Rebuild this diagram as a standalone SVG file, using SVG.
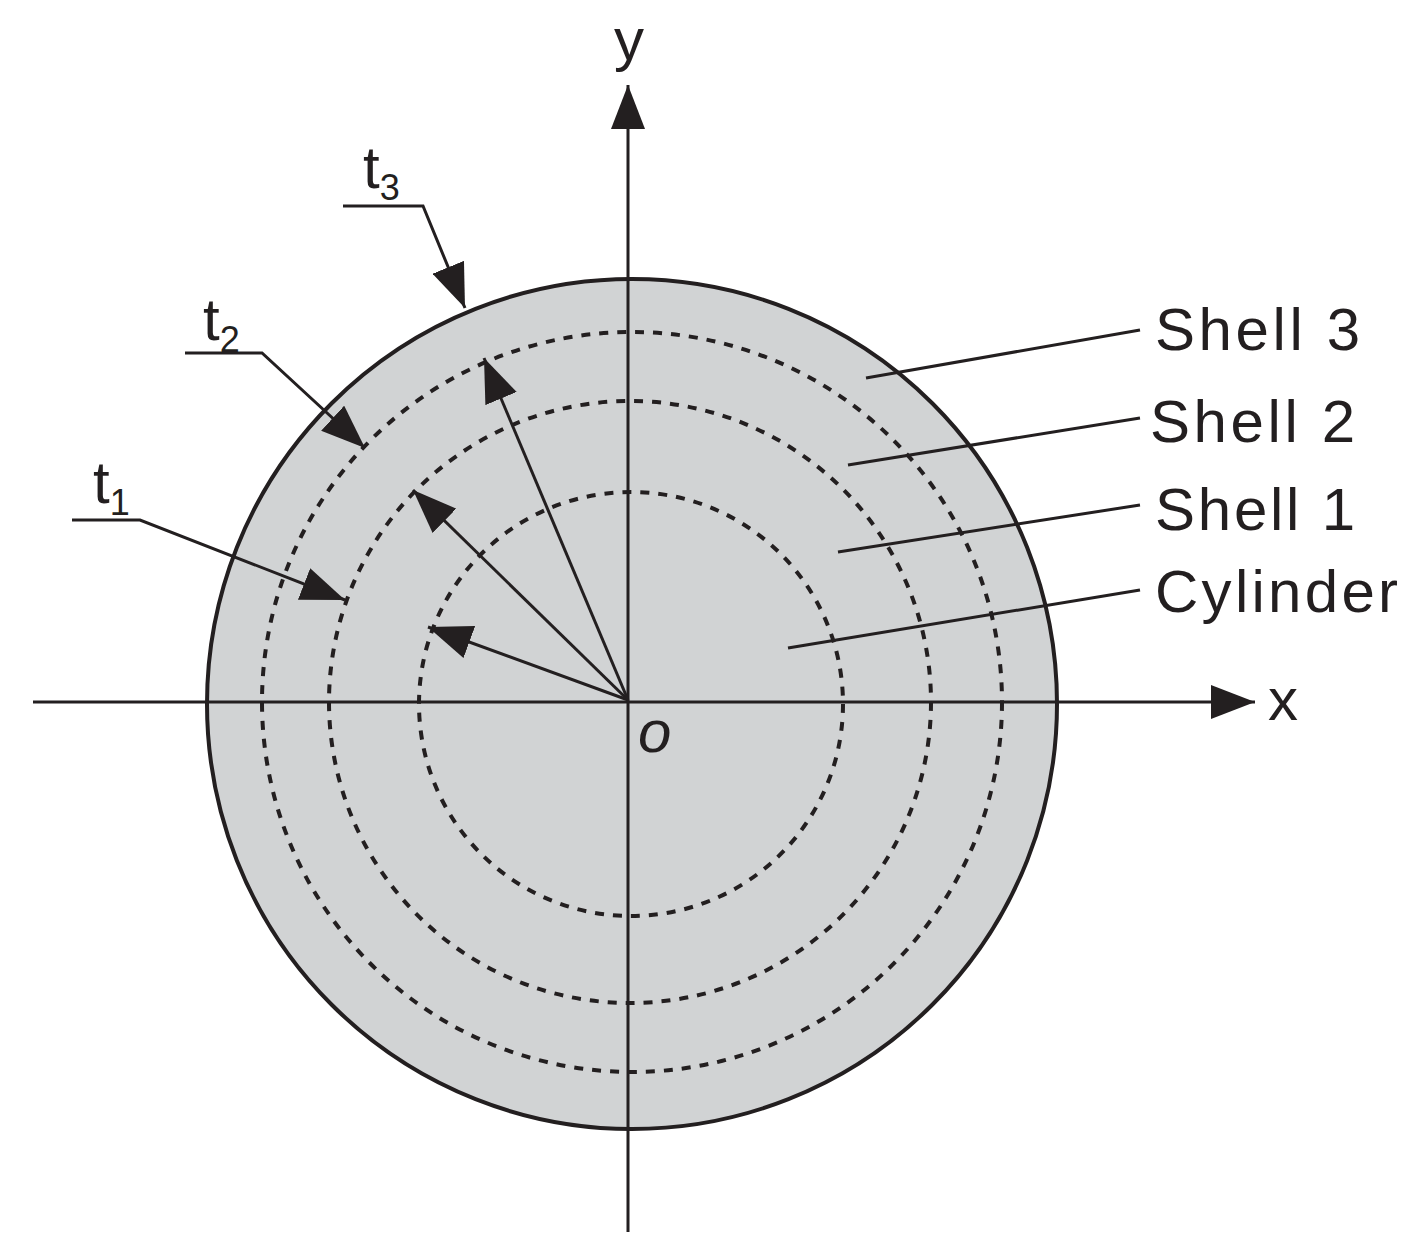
<svg xmlns="http://www.w3.org/2000/svg" width="1417" height="1244" viewBox="0 0 1417 1244">
<style>
.l{stroke:#231f20;stroke-width:3;fill:none}
.d{stroke:#231f20;stroke-width:4;fill:none;stroke-dasharray:9 9}
text{font-family:"Liberation Sans",Arial,sans-serif;fill:#231f20}
.lab{font-size:60px}
</style>
<defs>
<marker id="b" viewBox="0 0 10 10" refX="10" refY="5" markerWidth="44" markerHeight="34" markerUnits="userSpaceOnUse" orient="auto" preserveAspectRatio="none"><path d="M0,0L10,5L0,10z" fill="#231f20"/></marker>
</defs>
<g id="body">
<circle cx="632" cy="704" r="425" fill="#d1d3d4" stroke="#231f20" stroke-width="4"/>
<circle class="d" cx="632" cy="702" r="370"/>
<circle class="d" cx="630" cy="702" r="301"/>
<circle class="d" cx="631" cy="704" r="212"/>
</g>
<g id="connectors">
<line class="l" x1="33" y1="702" x2="1255" y2="702" marker-end="url(#b)"/>
<line class="l" x1="628" y1="1232" x2="628" y2="85" marker-end="url(#b)"/>
<line class="l" x1="628" y1="700" x2="428" y2="627" marker-end="url(#b)"/>
<line class="l" x1="628" y1="700" x2="413" y2="490" marker-end="url(#b)"/>
<line class="l" x1="628" y1="700" x2="484" y2="358" marker-end="url(#b)"/>
<polyline class="l" points="343,206 423,206 465,308" marker-end="url(#b)"/>
<polyline class="l" points="185,353 262,353 365,448" marker-end="url(#b)"/>
<polyline class="l" points="72,520 140,520 345,600" marker-end="url(#b)"/>
<line class="l" x1="866" y1="378" x2="1140" y2="330"/>
<line class="l" x1="848" y1="465" x2="1140" y2="418"/>
<line class="l" x1="838" y1="552" x2="1140" y2="505"/>
<line class="l" x1="788" y1="648" x2="1140" y2="590"/>
</g>
<g id="labels">
<text class="lab" x="1155" y="350" textLength="205">Shell 3</text>
<text class="lab" x="1150" y="442" textLength="205">Shell 2</text>
<text class="lab" x="1155" y="530" textLength="200">Shell 1</text>
<text class="lab" x="1155" y="612" textLength="243">Cylinder</text>
<text class="lab" x="1268" y="720">x</text>
<text class="lab" x="614" y="60">y</text>
<text class="lab" x="638" y="752" font-style="italic">o</text>
<text class="lab" x="363" y="188">t<tspan font-size="36" dy="12">3</tspan></text>
<text class="lab" x="203" y="340">t<tspan font-size="36" dy="12">2</tspan></text>
<text class="lab" x="93" y="503">t<tspan font-size="36" dy="12">1</tspan></text>
</g>
</svg>
